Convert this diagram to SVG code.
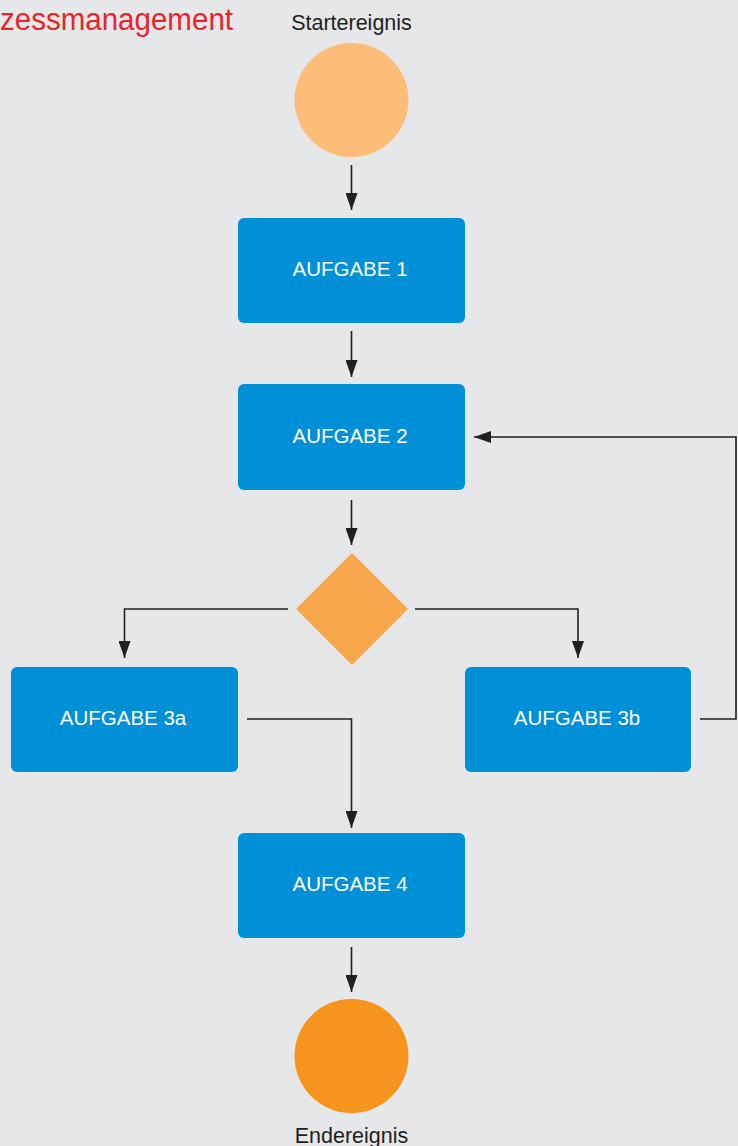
<svg xmlns="http://www.w3.org/2000/svg" width="738" height="1146" viewBox="0 0 738 1146">
<defs>
<style>
.box{fill:#0090d7;}
.bt{font-family:"Liberation Sans",Arial,sans-serif;font-size:20.5px;fill:#ffffff;text-anchor:middle;}
.lbl{font-family:"Liberation Sans",Arial,sans-serif;font-size:21.5px;fill:#231f20;text-anchor:middle;}
.con{fill:none;stroke:#231f20;stroke-width:1.6;}
</style>
<marker id="ah" viewBox="0 0 17 12" refX="17" refY="6" markerWidth="17" markerHeight="12" markerUnits="userSpaceOnUse" orient="auto">
<path d="M0,0 L17,6 L0,12 z" fill="#231f20"/>
</marker>
</defs>
<rect x="0" y="0" width="738" height="1146" fill="#e6e7e9"/>
<text x="0" y="30" font-family="'Liberation Sans',Arial,sans-serif" font-size="31" fill="#e8232b" textLength="233" lengthAdjust="spacingAndGlyphs">zessmanagement</text>

<g id="start">
<circle cx="351.5" cy="100" r="57" fill="#fdbd78"/>
<text class="lbl" x="351.5" y="30">Startereignis</text>
</g>
<g id="aufgabe1">
<rect class="box" x="238" y="218" width="227" height="105" rx="6"/>
<text class="bt" x="350" y="276">AUFGABE 1</text>
</g>
<g id="aufgabe2">
<rect class="box" x="238" y="384" width="227" height="106" rx="6"/>
<text class="bt" x="350" y="443">AUFGABE 2</text>
</g>
<g id="decision">
<polygon points="352,553 408,609 352,665 296,609" fill="#f9a74b"/>
</g>
<g id="aufgabe3a">
<rect class="box" x="11" y="667" width="227" height="105" rx="6"/>
<text class="bt" x="123" y="725">AUFGABE 3a</text>
</g>
<g id="aufgabe3b">
<rect class="box" x="465" y="667" width="226" height="105" rx="6"/>
<text class="bt" x="577" y="725">AUFGABE 3b</text>
</g>
<g id="aufgabe4">
<rect class="box" x="238" y="833" width="227" height="105" rx="6"/>
<text class="bt" x="350" y="891">AUFGABE 4</text>
</g>
<g id="end">
<circle cx="351.5" cy="1056" r="57" fill="#f7941d"/>
<text class="lbl" x="351.5" y="1143">Endereignis</text>
</g>

<g id="connectors">
<path class="con" d="M351.5,165 V210" marker-end="url(#ah)"/>
<path class="con" d="M351.5,331 V377" marker-end="url(#ah)"/>
<path class="con" d="M351.5,500 V545" marker-end="url(#ah)"/>
<path class="con" d="M288,609 H124.5 V658" marker-end="url(#ah)"/>
<path class="con" d="M415,609 H578 V658" marker-end="url(#ah)"/>
<path class="con" d="M247,719 H351.5 V828" marker-end="url(#ah)"/>
<path class="con" d="M700,719 H736 V437 H474" marker-end="url(#ah)"/>
<path class="con" d="M351.5,947 V992" marker-end="url(#ah)"/>
</g>
</svg>
